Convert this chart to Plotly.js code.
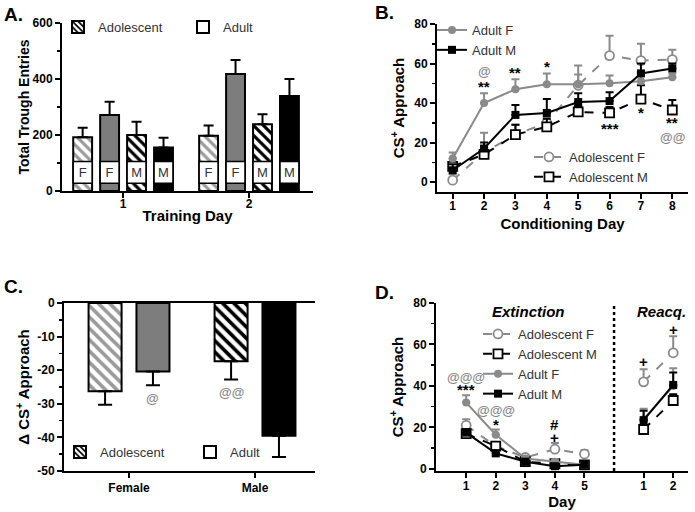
<!DOCTYPE html>
<html>
<head>
<meta charset="utf-8">
<script src="https://cdn.plot.ly/plotly-3.0.1.min.js"></script>
<style>html,body{margin:0;padding:0;background:#fff;}</style>
</head>
<body>
<div id="chart" style="width:695px;height:512px;"></div>
<script>
// ---------- Panel A: total trough entries ----------
const trainingDays = ['1', '2'];
const aAdolF = [192, 197];
const aAdolFErr = [34, 37];
const aAdultF = [271, 418];
const aAdultFErr = [48, 50];
const aAdolM = [200, 238];
const aAdolMErr = [47, 36];
const aAdultM = [155, 339];
const aAdultMErr = [35, 61];
const aSexLabels = ['F', 'F', 'M', 'M'];
const aYTicks = [0, 200, 400, 600];

// ---------- Panel B: conditioning ----------
const condDays = [1, 2, 3, 4, 5, 6, 7, 8];
const bAdultF = [12, 40, 47, 49.5, 49.5, 50, 51, 53];
const bAdultFErr = [3, 5, 5, 5.5, 5, 4, 4, 2];
const bAdultM = [6, 17, 34, 35, 40.5, 41, 55, 57.5];
const bAdultMErr = [3, 3, 5, 7, 4.5, 4.5, 5, 2.5];
const bAdolF = [1, 15, 24, 30, 49, 64, 61.5, 62];
const bAdolFErr = [3, 10, 5, 3, 10, 10, 8.5, 5];
const bAdolM = [8, 14, 24, 28, 35.5, 35, 42, 36.5];
const bAdolMErr = [2, 3, 5, 4, 3, 3, 7, 5];

// ---------- Panel C: delta CS+ approach ----------
const sexes = ['Female', 'Male'];
const cAdol = [-26.3, -17.3];
const cAdolErr = [4.0, 5.5];
const cAdult = [-20.4, -39.5];
const cAdultErr = [4.1, 6.3];
const cYTickVals = [-50, -40, -30, -20, -10, 0];
const cYTickText = ['-50', '-40', '-30', '-20', '-10', '0'];

// ---------- Panel D: extinction / reacquisition ----------
const extDays = [1, 2, 3, 4, 5];
const reacqDays = [1, 2];
const separatorDay = 6;
const dAdolFExt = [21, 11, 5.5, 9.5, 7.2];
const dAdolFExtErr = [3, 2, 1, 3, 1.8];
const dAdolFRe = [42, 56];
const dAdolFReErr = [6, 8];
const dAdolMExt = [17, 11, 3.5, 2.5, 2];
const dAdolMExtErr = [2, 1.5, 1, 1, 0.5];
const dAdolMRe = [19, 33];
const dAdolMReErr = [2, 3];
const dAdultFExt = [32, 16.5, 5, 3.5, 2];
const dAdultFExtErr = [3.5, 2.5, 1, 1, 0.5];
const dAdultFRe = [24, 40];
const dAdultFReErr = [5, 8.5];
const dAdultMExt = [17.5, 7.5, 3.5, 1.3, 2];
const dAdultMExtErr = [1.5, 1.5, 1, 1, 0.5];
const dAdultMRe = [23.5, 40.5];
const dAdultMReErr = [4.5, 6];

// significance labels
const sigA = [['2', 0, 497, '**', '#000']];
const sigB = [[2, 56, '@', '#888'], [2, 48.5, '**', '#000'], [3, 55.5, '**', '#000'], [4, 58.5, '*', '#000'],
              [6, 27, '***', '#000'], [7, 35, '*', '#000'], [8, 30, '**', '#000'], [8, 22.5, '@@', '#888']];
const sigC = [[0, 1, -28.5, '@', '#888'], [1, 0, -26.5, '@@', '#888']];
const sigD = [[1, 44, '@@@', '#888'], [1, 38.5, '***', '#000'], [2, 28, '@@@', '#888'], [2, 21.5, '*', '#000'],
              [4, 21.5, '#', '#000'], [4, 15, '+', '#000'], [7, 52, '+', '#000'], [8, 67, '+', '#000']];

// ---------- styles ----------
const FONT = 'Liberation Sans, Arial, sans-serif';
const GRAY = '#8a8a8a';
const BAR_GRAY = '#7d7d7d';
const STRIPE_GRAY = '#9a9a9a';
const zeros = a => a.map(() => 0);

const aW = 0.15;
const aOffsets = [-0.396, -0.182, 0.032, 0.246];
const boxBase = 28, boxHeight = 77;

function upErr(arr, color, w) {
  return {type: 'data', symmetric: false, array: arr, arrayminus: zeros(arr), color: color, thickness: 2, width: w};
}
function downErr(arr, color, w) {
  return {type: 'data', symmetric: false, array: zeros(arr), arrayminus: arr, color: color, thickness: 2, width: w};
}

const traces = [];
const aSeries = [
  {y: aAdolF, e: aAdolFErr, fill: '#fff', pat: {shape: '\\', fgcolor: STRIPE_GRAY, bgcolor: '#fff', size: 7, solidity: 0.45}},
  {y: aAdultF, e: aAdultFErr, fill: BAR_GRAY, pat: null},
  {y: aAdolM, e: aAdolMErr, fill: '#fff', pat: {shape: '\\', fgcolor: '#000', bgcolor: '#fff', size: 7, solidity: 0.45}},
  {y: aAdultM, e: aAdultMErr, fill: '#000', pat: null}
];
aSeries.forEach((s, i) => {
  const m = {color: s.fill, line: {color: '#000', width: 2}};
  if (s.pat) m.pattern = s.pat;
  traces.push({type: 'bar', x: trainingDays, y: s.y, xaxis: 'x', yaxis: 'y', width: aW, offset: aOffsets[i],
    marker: m, error_y: upErr(s.e, '#000', 5), showlegend: false, hoverinfo: 'skip'});
});
aSeries.forEach((s, i) => {
  traces.push({type: 'bar', x: trainingDays, y: trainingDays.map(() => boxHeight), base: boxBase,
    xaxis: 'x', yaxis: 'y', width: aW, offset: aOffsets[i],
    marker: {color: '#fff', line: {color: '#000', width: 1.5}},
    text: trainingDays.map(() => aSexLabels[i]), textposition: 'inside', insidetextanchor: 'middle',
    textfont: {family: FONT, size: 13, color: '#333'}, showlegend: false, hoverinfo: 'skip'});
});
traces.push({type: 'bar', x: [null], y: [null], xaxis: 'x', yaxis: 'y', name: 'Adolescent', legend: 'legend',
  marker: {color: '#fff', line: {color: '#000', width: 2}, pattern: {shape: '\\', fgcolor: '#000', bgcolor: '#fff', size: 5, solidity: 0.45}}});
traces.push({type: 'bar', x: [null], y: [null], xaxis: 'x', yaxis: 'y', name: 'Adult', legend: 'legend',
  marker: {color: '#fff', line: {color: '#000', width: 2}}});

function lineTrace(x, y, e, name, color, dash, symbol, open, xa, ya, leg, show) {
  return {type: 'scatter', mode: 'lines+markers', x: x, y: y, name: name, xaxis: xa, yaxis: ya,
    legend: leg, showlegend: show, legendgroup: name + xa,
    line: {color: color, width: 2, dash: dash},
    marker: {symbol: symbol, size: open ? 9 : 8, color: open ? '#fff' : color, line: {color: color, width: open ? 1.8 : 0}},
    error_y: upErr(e, color, 4), hoverinfo: 'skip'};
}
traces.push(lineTrace(condDays, bAdolF, bAdolFErr, 'Adolescent F', GRAY, 'dash', 'circle', true, 'x2', 'y2', 'legend3', true));
traces.push(lineTrace(condDays, bAdolM, bAdolMErr, 'Adolescent M', '#000', 'dash', 'square', true, 'x2', 'y2', 'legend3', true));
traces.push(lineTrace(condDays, bAdultF, bAdultFErr, 'Adult F', GRAY, 'solid', 'circle', false, 'x2', 'y2', 'legend2', true));
traces.push(lineTrace(condDays, bAdultM, bAdultMErr, 'Adult M', '#000', 'solid', 'square', false, 'x2', 'y2', 'legend2', true));

const cW = 0.262;
traces.push({type: 'bar', x: sexes, y: cAdol, xaxis: 'x3', yaxis: 'y3', width: cW, offset: -0.321,
  marker: {color: '#fff', line: {color: '#000', width: 2},
    pattern: {shape: '\\', fgcolor: [STRIPE_GRAY, '#000'], bgcolor: '#fff', size: 8, solidity: 0.45}},
  error_y: downErr(cAdolErr, '#000', 7), showlegend: false, hoverinfo: 'skip'});
traces.push({type: 'bar', x: sexes, y: cAdult, xaxis: 'x3', yaxis: 'y3', width: cW, offset: 0.059,
  marker: {color: [BAR_GRAY, '#000'], line: {color: '#000', width: 2}},
  error_y: downErr(cAdultErr, '#000', 7), showlegend: false, hoverinfo: 'skip'});
traces.push({type: 'bar', x: [null], y: [null], xaxis: 'x3', yaxis: 'y3', name: 'Adolescent', legend: 'legend5',
  marker: {color: '#fff', line: {color: '#000', width: 2}, pattern: {shape: '\\', fgcolor: '#000', bgcolor: '#fff', size: 5, solidity: 0.45}}});
traces.push({type: 'bar', x: [null], y: [null], xaxis: 'x3', yaxis: 'y3', name: 'Adult', legend: 'legend5',
  marker: {color: '#fff', line: {color: '#000', width: 2}}});

const reX = reacqDays.map(d => d + separatorDay);
const dGroups = [
  ['Adolescent F', GRAY, 'dash', 'circle', true, dAdolFExt, dAdolFExtErr, dAdolFRe, dAdolFReErr],
  ['Adolescent M', '#000', 'dash', 'square', true, dAdolMExt, dAdolMExtErr, dAdolMRe, dAdolMReErr],
  ['Adult F', GRAY, 'solid', 'circle', false, dAdultFExt, dAdultFExtErr, dAdultFRe, dAdultFReErr],
  ['Adult M', '#000', 'solid', 'square', false, dAdultMExt, dAdultMExtErr, dAdultMRe, dAdultMReErr]
];
dGroups.forEach(g => {
  traces.push(lineTrace(extDays, g[5], g[6], g[0], g[1], g[2], g[3], g[4], 'x4', 'y4', 'legend4', true));
  traces.push(lineTrace(reX, g[7], g[8], g[0], g[1], g[2], g[3], g[4], 'x4', 'y4', 'legend4', false));
});

const px = v => v / 695;
const py = v => 1 - v / 512;
const tickFont = {family: FONT, size: 12, weight: 'bold', color: '#000'};
const titleFont = {family: FONT, size: 15, weight: 'bold', color: '#000'};
function axisBase(extra) {
  return Object.assign({showline: true, linewidth: 2, linecolor: '#000', ticks: 'outside', ticklen: 5, tickwidth: 2,
    tickcolor: '#000', showgrid: false, zeroline: false, tickfont: tickFont, fixedrange: true}, extra);
}
function minor(d) { return {dtick: d, ticks: 'outside', ticklen: 3, tickwidth: 1.5, tickcolor: '#000', showgrid: false}; }

const annotations = [];
function panelLabel(t, x, y) {
  annotations.push({text: t, x: px(x), y: py(y), xref: 'paper', yref: 'paper', xanchor: 'left', yanchor: 'middle',
    showarrow: false, font: {family: FONT, size: 19, weight: 'bold', color: '#000'}});
}
panelLabel('A.', 2, 14); panelLabel('B.', 373, 12); panelLabel('C.', 2, 286); panelLabel('D.', 373, 292);

function sig(xa, ya, x, y, t, c, xshift) {
  annotations.push({text: t, x: x, y: y, xref: xa, yref: ya, showarrow: false, xshift: xshift || 0,
    font: {family: FONT, size: t.indexOf('@') >= 0 ? 13 : 15, weight: 'bold', color: c}});
}
sigA.forEach(s => sig('x', 'y', s[0], s[2], s[3], s[4], 13.5));
sigB.forEach(s => sig('x2', 'y2', s[0], s[1], s[2], s[3]));
const cCenters = [-0.19, 0.19];
sigC.forEach(s => sig('x3', 'y3', s[0] + cCenters[s[1]], s[2], s[3], s[4]));
sigD.forEach(s => sig('x4', 'y4', s[0], s[1], s[2], s[3]));
annotations.push({text: 'Extinction', x: 3.1, y: 76, xref: 'x4', yref: 'y4', showarrow: false,
  font: {family: FONT, size: 15, weight: 'bold', style: 'italic', color: '#000'}});
annotations.push({text: 'Reacq.', x: 7.6, y: 76, xref: 'x4', yref: 'y4', showarrow: false,
  font: {family: FONT, size: 15, weight: 'bold', style: 'italic', color: '#000'}});

const legFont = {family: FONT, size: 13, color: '#333'};
const legBase = {xanchor: 'left', yanchor: 'top', font: legFont, bgcolor: 'rgba(0,0,0,0)', tracegroupgap: 0, traceorder: 'normal'};
const layout = {
  width: 695, height: 512, margin: {l: 0, r: 0, t: 0, b: 0},
  paper_bgcolor: '#fff', plot_bgcolor: '#fff', barmode: 'overlay', font: {family: FONT, color: '#000'},
  xaxis: axisBase({domain: [px(62), px(313)], type: 'category', range: [-0.485, 1.508], anchor: 'y', ticklabelstandoff: -4,
    title: {text: 'Training Day', font: titleFont, standoff: 0}}),
  yaxis: axisBase({domain: [py(191), py(23)], range: [0, 600], tickvals: aYTicks, anchor: 'x', minor: minor(100),
    title: {text: 'Total Trough Entries', font: {family: FONT, size: 14, weight: 'bold'}, standoff: 0}}),
  xaxis2: axisBase({domain: [px(437), px(688)], range: [0.5, 8.5], dtick: 1, anchor: 'y2', ticklabelstandoff: -3,
    title: {text: 'Conditioning Day', font: titleFont, standoff: 6}}),
  yaxis2: axisBase({domain: [py(192), py(24)], range: [-5, 80], tickvals: [0, 20, 40, 60, 80], anchor: 'x2', minor: minor(10),
    title: {text: 'CS<sup>+</sup> Approach', font: titleFont, standoff: 6}}),
  xaxis3: axisBase({domain: [px(64), px(315)], type: 'category', range: [-0.516, 1.476], anchor: 'y3', mirror: true}),
  yaxis3: axisBase({domain: [py(471), py(303)], range: [-50, 0], tickvals: cYTickVals, ticktext: cYTickText, anchor: 'x3', minor: minor(5),
    title: {text: 'Δ CS<sup>+</sup> Approach', font: titleFont, standoff: 4}}),
  xaxis4: axisBase({domain: [px(436), px(688)], range: [-0.02, 8.5], tickvals: extDays.concat(reX),
    ticktext: extDays.concat(reacqDays).map(String), anchor: 'y4', ticklabelstandoff: -2,
    title: {text: 'Day', font: titleFont, standoff: 1}}),
  yaxis4: axisBase({domain: [py(471), py(303)], range: [-1, 80], tickvals: [0, 20, 40, 60, 80], anchor: 'x4', minor: minor(10),
    title: {text: 'CS<sup>+</sup> Approach', font: titleFont, standoff: 6}}),
  shapes: [{type: 'line', xref: 'x4', yref: 'y4', x0: separatorDay, x1: separatorDay, y0: -1, y1: 80,
    line: {color: '#000', width: 2.5, dash: 'dot'}}],
  annotations: annotations,
  legend: Object.assign({}, legBase, {x: px(58), y: py(12), orientation: 'h', entrywidth: 80, entrywidthmode: 'pixels'}),
  legend2: Object.assign({}, legBase, {x: px(432), y: py(15)}),
  legend3: Object.assign({}, legBase, {x: px(529), y: py(142)}),
  legend4: Object.assign({}, legBase, {x: px(478), y: py(319)}),
  legend5: Object.assign({}, legBase, {x: px(60), y: py(437), orientation: 'h', entrywidth: 85, entrywidthmode: 'pixels'})
};

Plotly.newPlot('chart', traces, layout, {displayModeBar: false, staticPlot: true});
</script>
</body>
</html>
